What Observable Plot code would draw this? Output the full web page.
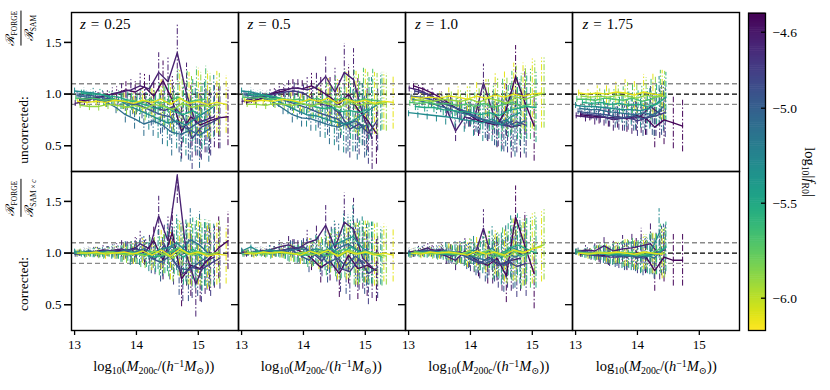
<!DOCTYPE html>
<html><head><meta charset="utf-8">
<script src="https://cdn.jsdelivr.net/npm/d3@7"></script>
<script src="https://cdn.jsdelivr.net/npm/@observablehq/plot@0.6"></script>
<style>
body{margin:0;background:#fff;}
#wrap{position:relative;width:830px;height:390px;overflow:hidden;font-family:"Liberation Serif","Times New Roman","DejaVu Serif",serif;color:#000;background:#fff;}
#wrap svg text{font-family:"Liberation Serif","Times New Roman","DejaVu Serif",serif;}
.abs{position:absolute;white-space:nowrap;line-height:1;}
.it{font-style:italic;}
sub,sup{font-size:.68em;line-height:0;}
sub{vertical-align:-0.32em;}
sup{vertical-align:0.45em;}
.frac{display:inline-flex;flex-direction:column;align-items:center;vertical-align:middle;}
.frac .bar{align-self:stretch;border-top:1px solid #000;margin:2px 0 2px 0;}
.cal{font-family:"DejaVu Serif",serif;font-style:italic;}
.sc{font-size:.62em;vertical-align:-0.35em;letter-spacing:.02em;}
</style></head><body><div id="wrap"></div>
<script>
// ---------------- data ----------------
const redshifts = ["0.25", "0.5", "1.0", "1.75"];
const massBins = [13.05, 13.2, 13.35, 13.5, 13.65, 13.8, 13.95, 14.1, 14.25, 14.4, 14.55, 14.7, 14.85, 15.0, 15.15, 15.3, 15.45];
const logFR0 = [-6.1, -5.9, -5.7, -5.5, -5.3, -5.1, -4.95, -4.8, -4.65, -4.52];
const binShift = [0.0, 0.04, -0.03, 0.06, -0.05, 0.02, -0.01, 0.05, -0.04, 0.03];

// uncorrected ratio R_FORGE / R_SAM
const unc_z025 = [
  [0.93,0.92,0.93,0.92,0.94,0.93,0.91,0.94,0.92,0.95,0.90,0.96,0.91,0.93,0.90,0.92,0.90],
  [0.89,0.88,0.88,0.90,0.89,0.87,0.89,0.86,0.90,0.88,0.85,0.91,0.87,0.89,0.88,0.90],
  [0.96,0.95,0.96,0.94,0.95,0.93,0.94,0.92,0.95,0.91,0.93,0.97,0.92,0.94,0.95],
  [1.01,1.00,1.00,0.98,0.97,0.94,0.92,0.89,0.86,0.88,0.83,0.80,0.84,0.78],
  [1.03,1.02,1.01,0.99,0.96,0.93,0.88,0.84,0.80,0.76,0.72,0.74,0.70,0.76,0.82,0.88],
  [0.98,0.97,0.95,0.92,0.87,0.80,0.76,0.71,0.74,0.70,0.63,0.61,0.65,0.60,0.66],
  [0.99,0.99,0.98,0.96,0.95,0.93,0.90,0.88,0.84,0.80,0.78,0.70,0.66,0.72,0.75],
  [0.95,0.96,0.95,0.94,0.94,0.92,0.90,0.93,0.87,0.84,0.88,0.79,0.57,0.68,0.72,0.77],
  [0.91,0.93,0.96,0.98,1.00,1.02,1.04,1.08,1.05,1.21,1.12,1.40,1.00,0.72,0.75,0.78],
  [0.93,0.95,0.97,0.99,1.01,1.04,1.02,1.07,0.98,1.13,0.94,0.64,0.78,0.70,0.74,0.77,0.78]
];
const unc_z05 = [
  [0.94,0.93,0.94,0.93,0.95,0.94,0.92,0.95,0.93,0.96,0.91,0.95,0.92,0.94,0.91,0.93,0.92],
  [0.90,0.90,0.89,0.91,0.90,0.89,0.91,0.88,0.92,0.90,0.87,0.93,0.89,0.91,0.90,0.92],
  [0.97,0.96,0.97,0.95,0.96,0.94,0.95,0.93,0.96,0.92,0.94,0.96,0.93,0.95,0.94,0.93],
  [1.00,0.99,0.99,0.97,0.95,0.92,0.90,0.88,0.86,0.87,0.83,0.84,0.82,0.86],
  [1.03,1.02,1.00,0.97,0.93,0.88,0.84,0.80,0.79,0.76,0.73,0.71,0.74,0.80,0.86,0.92],
  [0.99,0.98,0.96,0.92,0.86,0.80,0.77,0.76,0.73,0.70,0.68,0.72,0.66,0.70],
  [1.00,1.00,0.99,0.97,0.95,0.92,0.89,0.86,0.82,0.79,0.76,0.70,0.74,0.68],
  [0.96,0.97,0.98,1.00,1.02,1.03,1.01,0.95,0.90,0.88,0.80,0.66,0.71,0.62,0.75],
  [0.93,0.95,0.98,1.00,1.04,1.05,1.06,1.04,1.07,1.17,1.02,1.21,1.14,0.80,0.57],
  [0.92,0.94,0.97,1.01,1.03,1.06,1.05,1.08,1.03,0.97,0.90,1.00,0.85,0.75,0.62]
];
const unc_z10 = [
  [0.97,0.96,0.97,0.96,0.98,0.97,0.95,0.98,0.96,0.99,0.97,1.00,0.98,1.00,1.01],
  [0.94,0.94,0.93,0.95,0.94,0.93,0.95,0.92,0.96,0.94,0.91,0.97,0.95,0.98,1.01],
  [0.92,0.91,0.92,0.90,0.91,0.89,0.90,0.88,0.91,0.87,0.90,0.92,0.88,0.90],
  [0.88,0.87,0.87,0.85,0.84,0.83,0.82,0.80,0.82,0.79,0.84,0.86,0.88,0.87],
  [0.82,0.81,0.80,0.79,0.78,0.77,0.75,0.74,0.72,0.76,0.70,0.78,0.82],
  [0.95,0.93,0.91,0.88,0.85,0.82,0.80,0.77,0.73,0.71,0.75,0.69,0.74],
  [0.98,0.97,0.95,0.92,0.89,0.86,0.83,0.78,0.75,0.72,0.70,0.74],
  [1.03,1.01,0.97,0.93,0.88,0.85,0.80,0.76,0.74,0.71,0.69,0.73,0.70],
  [1.06,1.04,1.00,0.94,0.86,0.64,0.78,0.75,1.11,0.82,0.72,0.68,0.70],
  [1.08,1.05,1.01,0.96,0.90,0.84,0.80,0.74,0.72,0.70,0.85,1.17,0.92,0.69]
];
const unc_z175 = [
  [1.01,1.00,1.01,1.00,1.02,1.01,0.99,1.02,1.00,0.99],
  [0.98,0.97,0.98,0.97,0.99,0.98,0.96,0.99,0.97,0.98],
  [0.95,0.95,0.94,0.96,0.95,0.94,0.96,0.93,0.95,0.99],
  [0.92,0.91,0.92,0.90,0.91,0.89,0.90,0.88,0.90,0.97],
  [0.89,0.88,0.88,0.87,0.86,0.85,0.85,0.84,0.86,0.93],
  [0.86,0.85,0.85,0.83,0.82,0.81,0.80,0.82,0.79,0.88],
  [0.83,0.82,0.81,0.80,0.78,0.77,0.79,0.76,0.80,0.84],
  [0.81,0.80,0.79,0.77,0.76,0.78,0.74,0.77,0.79,0.82],
  [0.79,0.78,0.77,0.78,0.75,0.77,0.76,0.79,0.88,0.81],
  [0.80,0.79,0.78,0.77,0.78,0.76,0.79,0.77,0.68,0.75,0.72,0.69]
];

// corrected ratio R_FORGE / (R_SAM x c)
const cor_z025 = [
  [1.00,1.00,1.01,0.99,1.00,1.01,0.99,1.02,0.98,1.03,0.97,1.04,0.99,1.01,0.97,0.99,0.98],
  [1.01,1.00,0.99,1.01,1.00,0.98,1.00,0.97,1.02,0.99,0.95,1.03,0.98,1.00,0.99,1.01],
  [1.00,0.99,1.00,0.99,1.01,0.99,1.01,0.98,1.02,0.97,1.00,1.05,0.99,1.02,1.00],
  [0.99,1.00,1.00,1.01,1.00,1.00,0.99,0.98,0.96,0.99,1.02,0.96,1.04,0.95],
  [1.01,1.01,1.00,1.01,1.00,0.99,0.98,1.00,0.97,1.03,1.05,1.10,1.02,0.98,1.00,0.98],
  [1.00,1.02,1.01,1.02,1.00,1.03,1.01,1.04,1.00,0.96,1.06,1.02,1.13,1.08,0.99],
  [0.99,1.00,1.01,1.00,1.02,1.01,0.99,1.03,0.95,0.91,0.97,0.86,0.83,0.90,0.96],
  [1.00,1.01,1.00,1.02,1.01,1.03,1.04,1.01,0.94,1.08,0.92,0.80,0.86,0.84,0.90,0.95],
  [0.99,1.00,1.01,1.03,1.02,1.04,1.01,1.09,1.04,1.36,1.12,1.75,0.98,0.70,0.92,0.96],
  [1.00,1.01,1.00,1.02,1.03,1.02,1.05,1.00,1.12,0.93,1.20,0.75,0.88,0.85,0.95,1.05,1.12]
];
const cor_z05 = [
  [1.00,0.99,1.01,1.00,1.01,1.00,0.98,1.02,0.99,1.03,0.97,1.02,0.99,1.01,0.98,1.00,0.98],
  [1.01,1.00,0.99,1.01,1.00,0.99,1.01,0.98,1.02,1.00,0.97,1.03,0.99,1.01,0.99,0.97],
  [0.99,1.00,1.00,0.99,1.01,0.99,1.00,0.98,1.03,0.97,1.00,1.04,0.99,1.01,1.00,0.96],
  [1.00,1.01,1.00,1.01,1.00,0.99,0.98,0.99,1.00,1.04,0.98,1.06,1.01,0.99],
  [1.02,1.06,1.01,1.03,1.02,1.00,0.99,1.01,1.04,1.02,1.08,1.12,1.16,1.05,1.00,0.97],
  [1.00,1.01,1.00,1.02,1.01,1.03,1.04,1.02,0.96,0.99,1.05,1.09,1.03,0.98],
  [0.99,1.00,1.01,1.00,1.02,1.04,0.98,0.93,1.02,0.90,0.95,0.88,0.97,0.90],
  [1.00,1.01,1.02,1.01,1.03,1.05,1.06,1.00,0.92,1.06,0.85,0.82,0.94,0.80,0.86],
  [1.01,1.00,1.02,1.03,1.06,1.08,1.04,1.10,1.13,1.27,1.05,1.30,1.23,0.95,0.86],
  [0.99,1.01,1.00,1.02,1.03,1.05,1.01,0.95,0.86,0.92,0.80,0.98,0.85,0.88,0.83]
];
const cor_z10 = [
  [1.00,0.99,1.01,1.00,1.01,1.00,0.98,1.02,0.99,1.01,0.98,1.03,1.00,1.04,1.06],
  [1.01,1.00,0.99,1.01,1.00,0.99,1.02,0.98,1.03,0.99,0.96,1.02,1.01,1.05,1.08],
  [0.99,1.00,1.01,0.99,1.00,0.98,1.00,0.97,1.02,0.96,1.00,1.03,0.97,1.00],
  [1.01,1.00,1.00,0.99,0.99,1.00,1.01,0.98,1.03,0.97,1.04,1.08,1.04,1.00],
  [1.00,1.01,1.00,1.01,1.02,1.01,0.99,1.03,0.98,1.05,0.95,1.06,1.02],
  [1.00,1.02,1.01,1.00,0.98,1.00,0.97,0.95,0.93,0.98,1.02,0.96,1.00],
  [0.99,1.00,1.02,1.01,0.98,1.00,0.96,0.93,0.90,0.94,0.88,0.95],
  [1.00,1.03,1.02,1.04,0.97,1.00,0.94,0.90,0.96,0.88,0.92,0.87,0.90],
  [1.01,1.02,1.05,1.00,0.97,0.93,1.02,0.96,1.24,0.92,0.89,0.93,0.95],
  [1.00,1.01,1.03,1.02,1.00,1.01,0.98,0.92,0.88,0.95,0.78,1.35,1.07,0.80]
];
const cor_z175 = [
  [1.00,0.99,1.00,1.00,1.01,1.00,0.99,1.01,1.00,0.99],
  [1.00,1.00,1.01,0.99,1.01,1.00,0.98,1.01,0.99,1.00],
  [1.01,1.00,0.99,1.01,1.00,0.99,1.01,0.98,1.00,1.04],
  [0.99,0.99,1.00,0.98,1.00,0.98,0.99,0.97,0.99,1.06],
  [1.01,1.00,1.00,0.99,0.99,0.98,0.98,0.97,0.99,1.19],
  [1.00,0.99,1.00,0.98,0.98,0.97,0.97,0.99,0.95,1.04],
  [1.02,1.01,1.00,0.99,0.97,0.96,0.98,0.95,0.99,1.02],
  [0.99,0.98,0.97,0.96,0.96,0.99,0.95,0.98,1.00,1.03],
  [1.01,1.03,1.02,1.07,1.02,1.04,1.05,1.07,1.09,0.98],
  [0.99,1.00,0.98,0.97,1.00,0.96,1.01,0.97,0.83,0.96,0.93,0.93]
];

// half-length of the error bars per mass bin
const err_z025 = [0.03,0.04,0.045,0.05,0.06,0.08,0.10,0.12,0.15,0.19,0.23,0.27,0.30,0.32,0.32,0.30,0.28];
const err_z05  = [0.03,0.04,0.04,0.05,0.06,0.08,0.09,0.12,0.15,0.19,0.23,0.28,0.30,0.30,0.30,0.28,0.26];
const err_z10  = [0.04,0.045,0.05,0.06,0.08,0.10,0.12,0.15,0.18,0.22,0.26,0.30,0.32,0.34,0.34];
const err_z175 = [0.03,0.05,0.07,0.09,0.11,0.13,0.15,0.17,0.20,0.24,0.25,0.25];

const rowKeys = ["unc", "cor"];
const refLevelsGray = [0.9, 1.1];
const refLevelBlack = [1.0];
const yTicks = [0.5, 1.0, 1.5];
const xTicks = [13, 14, 15];
const cbarTicks = [-6.0, -5.5, -5.0, -4.6];
const fDomain = [-6.17, -4.5];

// ---------------- table ----------------
const sets = {
  "0.25": {unc: unc_z025, cor: cor_z025, err: err_z025},
  "0.5":  {unc: unc_z05,  cor: cor_z05,  err: err_z05},
  "1.0":  {unc: unc_z10,  cor: cor_z10,  err: err_z10},
  "1.75": {unc: unc_z175, cor: cor_z175, err: err_z175}
};
const rows = [];
for (const z of redshifts) for (const row of rowKeys) {
  const arr = sets[z][row];
  for (let i = arr.length - 1; i >= 0; --i) {
    arr[i].forEach((v, j) => rows.push({
      z, row, id: z + row + i, f: logFR0[i],
      m: massBins[j] + binShift[i], r: v, e: sets[z].err[j]
    }));
  }
}

// ---------------- layout ----------------
const W = 740, H = 390, ML = 70, MT = 12, MB = 60;
const PW = (W - ML) / 4, PH = (H - MT - MB) / 2;
const colorOpts = {type: "linear", domain: fDomain, scheme: "viridis", reverse: true};
const font = '"Liberation Serif", "Times New Roman", "DejaVu Serif", serif';

const main = Plot.plot({
  width: W, height: H, marginLeft: ML, marginRight: 0, marginTop: MT, marginBottom: MB,
  style: {fontFamily: font, fontSize: "13px", background: "transparent", overflow: "visible"},
  fx: {domain: redshifts, padding: 0, axis: null},
  fy: {domain: rowKeys, padding: 0, axis: null},
  x: {domain: [12.95, 15.65]},
  y: {domain: [0.25, 1.79]},
  color: colorOpts,
  marks: [
    Plot.ruleY(refLevelsGray, {stroke: "#8a8a8a", strokeWidth: 1.3, strokeDasharray: "5,3"}),
    Plot.ruleY(refLevelBlack, {stroke: "#000", strokeWidth: 1.2, strokeDasharray: "5,3"}),
    Plot.ruleX(rows, {fx: "z", fy: "row", x: "m", y1: d => d.r - d.e, y2: d => d.r + d.e,
      stroke: "f", strokeWidth: 1.0, strokeDasharray: "6,2,1.5,2", clip: true}),
    Plot.line(rows, {fx: "z", fy: "row", x: "m", y: "r", z: "id", stroke: "f",
      strokeWidth: 1.35, clip: true}),
    Plot.frame({stroke: "#000", strokeWidth: 1.4}),
    Plot.axisY({ticks: yTicks, tickSize: 7, tickPadding: 3, tickFormat: d => d.toFixed(1),
      label: null, facetAnchor: "left", strokeWidth: 1.3}),
    Plot.axisY({ticks: yTicks, tickSize: 7, tickFormat: () => "", label: null,
      facetAnchor: null, strokeWidth: 1.3}),
    Plot.axisX({ticks: xTicks, tickSize: 5, tickPadding: 4, tickFormat: d => String(d),
      label: null, facetAnchor: "bottom", strokeWidth: 1.3})
  ]
});
main.style.position = "absolute"; main.style.left = "0px"; main.style.top = "0px";

const step = 0.01;
const strips = d3.range(fDomain[0], fDomain[1], step);
const cbar = Plot.plot({
  width: 17 + 50, height: H, marginLeft: 0, marginRight: 50, marginTop: 12.7, marginBottom: MB,
  style: {fontFamily: font, fontSize: "13.5px", background: "transparent", overflow: "visible"},
  y: {domain: fDomain},
  color: colorOpts,
  marks: [
    Plot.rect(strips, {y1: d => d, y2: d => Math.min(d + step * 1.3, fDomain[1]), fill: d => d + step / 2}),
    Plot.frame({stroke: "#000", strokeWidth: 1.3}),
    Plot.axisY({anchor: "right", ticks: cbarTicks, tickSize: -5, tickPadding: 12, strokeWidth: 1.3,
      tickFormat: d => d.toFixed(1).replace("-", "\u2212"), label: null})
  ]
});
cbar.style.position = "absolute"; cbar.style.left = "748px"; cbar.style.top = "0px";

const wrap = document.getElementById("wrap");
wrap.appendChild(main);
wrap.appendChild(cbar);

function addDiv(html, css) {
  const d = document.createElement("div");
  d.className = "abs";
  d.innerHTML = html;
  Object.assign(d.style, css);
  wrap.appendChild(d);
  return d;
}
// redshift labels
redshifts.forEach((z, i) => {
  addDiv(`<span class="it">z</span><span style="margin:0 5px">=</span>${z}`,
    {left: (ML + PW * i + 10) + "px", top: (MT + 5) + "px", fontSize: "15px"});
});
// x-axis labels
redshifts.forEach((z, i) => {
  addDiv(`log<sub>10</sub>(<span class="it">M</span><sub>200c</sub>/(<span class="it">h</span><sup>\u22121</sup><span class="it">M</span><sub>\u2299</sub>))`,
    {left: (ML + PW * (i + 0.5)) + "px", top: "359px", fontSize: "14.5px", transform: "translateX(-50%)"});
});
// row labels
const fracHTML = den => `<span class="frac"><span><span class="cal">\u211B</span><span class="sc">FORGE</span></span><span class="bar"></span><span><span class="cal">\u211B</span><span class="sc">${den}</span></span></span>`;
const rowLabel = (html, cx, cy, size) => addDiv(html, {left: cx + "px", top: cy + "px", fontSize: size,
  transform: "translate(-50%,-50%) rotate(-90deg)"});
rowLabel(fracHTML("SAM"), 21, 28, "12px");
rowLabel("uncorrected:", 24, 130, "13.5px");
rowLabel(fracHTML("SAM\u2009\u00D7\u2009<span class='it'>c</span>"), 21, 198, "12px");
rowLabel("corrected:", 24, 284, "13.5px");
// colorbar label
addDiv(`log<sub>10</sub>|<span class="it">f</span><sub>R0</sub>|`, {left: "810px", top: "172px", fontSize: "14.5px",
  transform: "translate(-50%,-50%) rotate(90deg)"});
</script></body></html>
